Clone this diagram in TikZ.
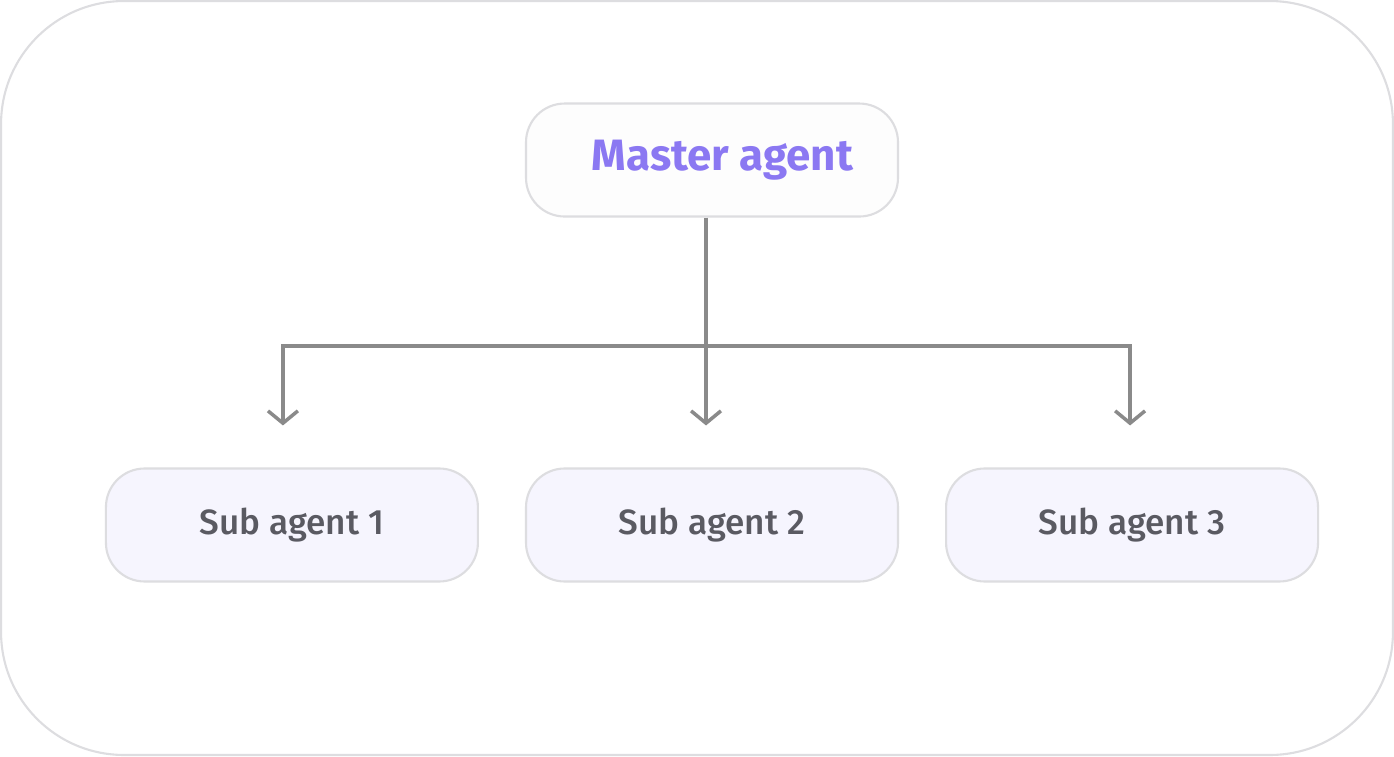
\documentclass[tikz,border=0pt]{standalone}
\usepackage{fontspec}
\setmainfont{Fira Sans}
\newfontfamily\medfont{Fira Sans Medium}
\usetikzlibrary{positioning, arrows.meta}
\definecolor{boxline}{HTML}{DDDDE0}
\definecolor{subfill}{HTML}{F6F5FE}
\definecolor{masterfill}{HTML}{FDFDFD}
\definecolor{mastertext}{HTML}{8B78F2}
\definecolor{subtext}{HTML}{5A5A62}
\definecolor{linkgray}{HTML}{8A8A8A}
\begin{document}
\begin{tikzpicture}[x=0.02cm, y=0.02cm]
        \tikzstyle{master} = [rectangle, rounded corners=22, minimum width=372*0.02cm, minimum height=113*0.02cm, text centered, draw=boxline, line width=1.2pt, fill=masterfill, font=\fontsize{25}{28}\selectfont\bfseries, text=mastertext]
        \tikzstyle{sub} = [rectangle, rounded corners=22, minimum width=372*0.02cm, minimum height=113*0.02cm, text centered, draw=boxline, line width=1.2pt, fill=subfill, font=\fontsize{20}{23}\selectfont\medfont, text=subtext]
        \tikzstyle{link} = [line width=2pt, draw=linkgray]
        \tikzstyle{arrow} = [link, -{Straight Barb[length=7pt, width=17pt, line width=2pt]}, shorten >=42*0.02cm]

        \draw [boxline, line width=1.2pt, fill=white, rounded corners=70] (1,1) rectangle (1393,755);

        \node (master) [master] at (712,596) {\hspace{12pt}Master agent};
        \node (sub2) [sub] at (712,231) {Sub agent 2};
        \node (sub1) [sub, left=46*0.02cm of sub2] {Sub agent 1};
        \node (sub3) [sub, right=46*0.02cm of sub2] {Sub agent 3};

        \coordinate (split) at (706,410);
        \draw [link] (master.south -| split) -- (split);
        \draw [arrow] (split) -| ([xshift=-9*0.02cm]sub1.north);
        \draw [arrow] (split) -| ([xshift=-2*0.02cm]sub3.north);
        \draw [arrow] (split) -- (split |- sub2.north);
    \end{tikzpicture}
\end{document}
